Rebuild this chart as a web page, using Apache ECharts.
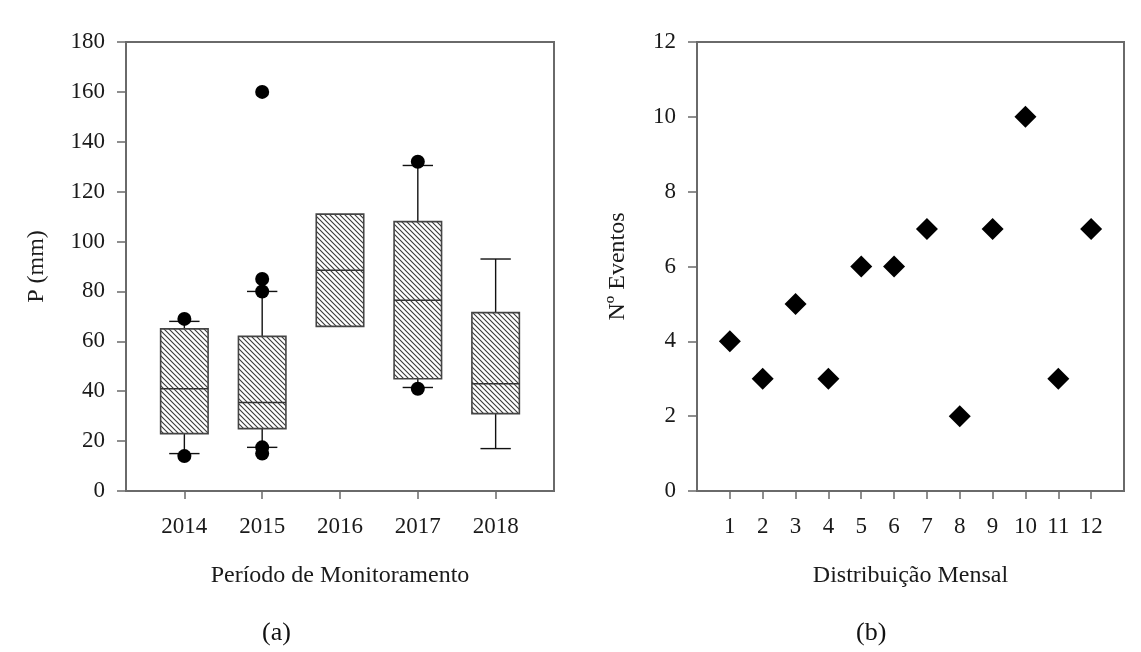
<!DOCTYPE html>
<html>
<head>
<meta charset="utf-8">
<script src="https://cdn.jsdelivr.net/npm/echarts@6/dist/echarts.min.js"></script>
<style>html,body{margin:0;padding:0;background:#fff}#c{width:1141px;height:652px}</style>
</head>
<body>
<div id="c"></div>
<script>
// ---- Panel (a): box plots of P (mm) per year ----
const years      = [2014, 2015, 2016, 2017, 2018];
const q1         = [23, 25, 66, 45, 31];
const medians    = [41, 35.5, 88.5, 76.5, 43];
const q3         = [65, 62, 111, 108, 71.5];
const whiskerLow = [15, 17.5, null, 41.5, 17];
const whiskerHigh= [68, 80, null, 130.5, 93];
const outliers   = [[2014, 69], [2014, 14], [2015, 160], [2015, 85], [2015, 80], [2015, 17.5], [2015, 15], [2017, 132], [2017, 41]];
const yTicksA    = [0, 20, 40, 60, 80, 100, 120, 140, 160, 180];

// ---- Panel (b): monthly number of events ----
const months     = [1, 2, 3, 4, 5, 6, 7, 8, 9, 10, 11, 12];
const events     = [4, 3, 5, 3, 6, 6, 7, 2, 7, 10, 3, 7];

const FONT = 'Liberation Serif';
const AX = '#6a6a6a';

// hatch pattern "\\\\"
function makeHatch() {
  const s = 5;
  const c = document.createElement('canvas');
  c.width = s; c.height = s;
  const g = c.getContext('2d');
  g.fillStyle = '#fff'; g.fillRect(0, 0, s, s);
  g.strokeStyle = '#3a3a3a'; g.lineWidth = 1.1;
  g.beginPath();
  g.moveTo(-1, -1); g.lineTo(s + 1, s + 1);
  g.moveTo(-1, s - 1); g.lineTo(1, s + 1);
  g.moveTo(s - 1, -1); g.lineTo(s + 1, 1);
  g.stroke();
  return c;
}
const hatch = makeHatch();

const boxData = years.map((y, i) => [y, q1[i], medians[i], q3[i],
  whiskerLow[i] == null ? '-' : whiskerLow[i],
  whiskerHigh[i] == null ? '-' : whiskerHigh[i]]);

function renderBox(params, api) {
  const x = api.value(0);
  const vq1 = api.value(1), vmed = api.value(2), vq3 = api.value(3);
  const vlo = api.value(4), vhi = api.value(5);
  const pq1 = api.coord([x, vq1]);
  const pq3 = api.coord([x, vq3]);
  const pm = api.coord([x, vmed]);
  const halfW = api.size([0.61, 0])[0] / 2;
  const capHalf = api.size([0.39, 0])[0] / 2;
  const cx = pq1[0];
  const ch = [];
  const wStyle = { stroke: '#111', lineWidth: 1.4 };
  if (vhi != null && !isNaN(vhi)) {
    const ph = api.coord([x, vhi]);
    ch.push({ type: 'line', shape: { x1: cx, y1: pq3[1], x2: cx, y2: ph[1] }, style: wStyle });
    ch.push({ type: 'line', shape: { x1: cx - capHalf, y1: ph[1], x2: cx + capHalf, y2: ph[1] }, style: wStyle });
  }
  if (vlo != null && !isNaN(vlo)) {
    const pl = api.coord([x, vlo]);
    ch.push({ type: 'line', shape: { x1: cx, y1: pq1[1], x2: cx, y2: pl[1] }, style: wStyle });
    ch.push({ type: 'line', shape: { x1: cx - capHalf, y1: pl[1], x2: cx + capHalf, y2: pl[1] }, style: wStyle });
  }
  ch.push({ type: 'rect', shape: { x: cx - halfW, y: pq3[1], width: 2 * halfW, height: pq1[1] - pq3[1] },
    style: { fill: { image: hatch, repeat: 'repeat' }, stroke: '#444', lineWidth: 1.6 } });
  ch.push({ type: 'line', shape: { x1: cx - halfW, y1: pm[1], x2: cx + halfW, y2: pm[1] }, style: { stroke: '#333', lineWidth: 1.6 } });
  return { type: 'group', children: ch };
}

const labelStyle = { fontFamily: FONT, fontSize: 23, color: '#1a1a1a' };
const nameStyle = { fontFamily: FONT, fontSize: 24, color: '#1a1a1a' };
const plain = v => String(v);

const chart = echarts.init(document.getElementById('c'), null, { renderer: 'canvas' });
chart.setOption({
  backgroundColor: '#fff',
  animation: false,
  grid: [
    { left: 126, top: 42, width: 428, height: 449, show: true, borderColor: AX, borderWidth: 2, backgroundColor: 'transparent' },
    { left: 697, top: 42, width: 427, height: 449, show: true, borderColor: AX, borderWidth: 2, backgroundColor: 'transparent' }
  ],
  xAxis: [
    { type: 'value', gridIndex: 0, min: 2013.25, max: 2018.75,
      axisLine: { show: true, onZero: false, lineStyle: { color: AX, width: 2 } },
      axisTick: { show: true, length: 8, customValues: years, lineStyle: { color: AX, width: 1.5 } },
      axisLabel: { customValues: years, margin: 24, formatter: plain, ...labelStyle },
      splitLine: { show: false },
      name: 'Período de Monitoramento', nameLocation: 'middle', nameGap: 73, nameTextStyle: nameStyle },
    { type: 'value', gridIndex: 1, min: 0, max: 13,
      axisLine: { show: true, onZero: false, lineStyle: { color: AX, width: 2 } },
      axisTick: { show: true, length: 8, customValues: months, lineStyle: { color: AX, width: 1.5 } },
      axisLabel: { customValues: months, margin: 24, formatter: plain, ...labelStyle },
      splitLine: { show: false },
      name: 'Distribuição Mensal', nameLocation: 'middle', nameGap: 73, nameTextStyle: nameStyle }
  ],
  yAxis: [
    { type: 'value', gridIndex: 0, min: 0, max: 180, interval: 20,
      axisLine: { show: true, lineStyle: { color: AX, width: 2 } },
      axisTick: { show: true, length: 9, lineStyle: { color: AX, width: 1.5 } },
      axisLabel: { margin: 21, formatter: plain, ...labelStyle },
      splitLine: { show: false },
      name: 'P (mm)', nameLocation: 'middle', nameGap: 77, nameTextStyle: nameStyle },
    { type: 'value', gridIndex: 1, min: 0, max: 12, interval: 2,
      axisLine: { show: true, lineStyle: { color: AX, width: 2 } },
      axisTick: { show: true, length: 9, lineStyle: { color: AX, width: 1.5 } },
      axisLabel: { margin: 21, formatter: plain, ...labelStyle },
      splitLine: { show: false },
      name: 'Nº Eventos', nameLocation: 'middle', nameGap: 67, nameTextStyle: nameStyle }
  ],
  series: [
    { type: 'custom', xAxisIndex: 0, yAxisIndex: 0, renderItem: renderBox,
      encode: { x: 0, y: [1, 2, 3, 4, 5] }, data: boxData, z: 2 },
    { type: 'scatter', xAxisIndex: 0, yAxisIndex: 0, symbol: 'circle', symbolSize: 14,
      itemStyle: { color: '#000', opacity: 1 }, data: outliers, z: 3 },
    { type: 'scatter', xAxisIndex: 1, yAxisIndex: 1, symbol: 'diamond', symbolSize: [22, 22],
      itemStyle: { color: '#000', opacity: 1 }, data: months.map((m, i) => [m, events[i]]), z: 3 }
  ],
  graphic: [
    { type: 'text', left: 262, top: 620, style: { text: '(a)', fontFamily: FONT, fontSize: 26, fill: '#111' } },
    { type: 'text', left: 856, top: 620, style: { text: '(b)', fontFamily: FONT, fontSize: 26, fill: '#111' } }
  ]
});
</script>
</body>
</html>
